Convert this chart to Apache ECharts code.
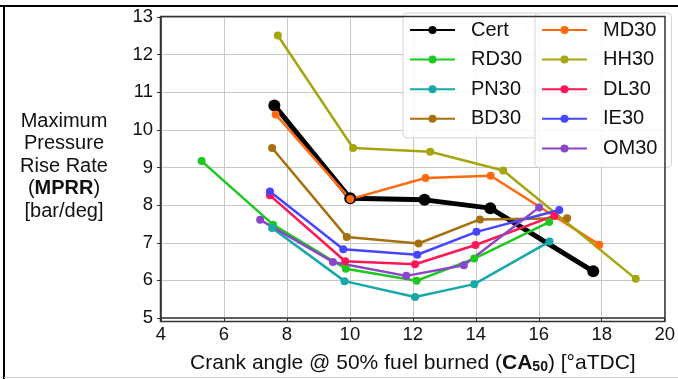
<!DOCTYPE html>
<html>
<head>
<meta charset="utf-8">
<script src="https://cdn.jsdelivr.net/npm/echarts@6/dist/echarts.min.js"></script>
<style>
html,body{margin:0;padding:0;background:#fff;}
#c{width:678px;height:379px;}
</style>
</head>
<body>
<div id="c"></div>
<script>
const xTicks = [4, 6, 8, 10, 12, 14, 16, 18, 20];
const yTicks = [5, 6, 7, 8, 9, 10, 11, 12, 13];

const seriesNames = ['Cert', 'RD30', 'PN30', 'BD30', 'MD30', 'HH30', 'DL30', 'IE30', 'OM30'];

const certX = [7.60, 10.01, 12.37, 14.46, 17.73];
const certY = [10.65, 8.18, 8.14, 7.92, 6.24];
const rdX = [5.29, 7.56, 9.87, 12.12, 13.95, 16.33];
const rdY = [9.17, 7.48, 6.31, 5.99, 6.58, 7.55];
const pnX = [7.53, 9.83, 12.07, 13.95, 16.34];
const pnY = [7.39, 5.98, 5.56, 5.90, 7.03];
const bdX = [7.53, 9.90, 12.18, 14.13, 16.90];
const bdY = [9.52, 7.15, 6.98, 7.62, 7.65];
const mdX = [7.64, 10.01, 12.40, 14.47, 17.92];
const mdY = [10.41, 8.16, 8.72, 8.78, 6.95];
const hhX = [7.71, 10.10, 12.55, 14.87, 19.08];
const hhY = [12.51, 9.52, 9.42, 8.92, 6.04];
const dlX = [7.46, 9.85, 12.07, 13.99, 16.50];
const dlY = [8.26, 6.51, 6.43, 6.94, 7.72];
const ieX = [7.46, 9.79, 12.14, 14.02, 16.65];
const ieY = [8.36, 6.83, 6.68, 7.29, 7.87];
const omX = [7.15, 9.46, 11.79, 13.62, 16.01];
const omY = [7.61, 6.49, 6.12, 6.40, 7.94];

const seriesX = [certX, rdX, pnX, bdX, mdX, hhX, dlX, ieX, omX];
const seriesY = [certY, rdY, pnY, bdY, mdY, hhY, dlY, ieY, omY];
const colors = ['#000000', '#1ec81e', '#17a8a8', '#a6700f', '#ff6a10', '#a5a50f', '#ff1656', '#4646ff', '#8a46c8'];

const FONT = 'Liberation Sans, Arial, sans-serif';

const series = seriesNames.map((name, i) => ({
  name: name,
  type: 'line',
  data: seriesX[i].map((x, j) => [x, seriesY[i][j]]),
  symbol: 'circle',
  symbolSize: i === 0 ? 12 : 8,
  lineStyle: { color: colors[i], width: i === 0 ? 5 : 2.5 },
  itemStyle: { color: colors[i] },
  emphasis: { disabled: true },
  animation: false
}));

const legendBase = {
  orient: 'vertical',
  top: 13,
  itemWidth: 45,
  itemHeight: 10,
  itemGap: 9.6,
  backgroundColor: 'rgba(255,255,255,0.85)',
  borderColor: '#d4d4d4',
  borderWidth: 1,
  borderRadius: 4,
  textStyle: { fontFamily: FONT, fontSize: 20, lineHeight: 20, color: '#111', padding: [0, 0, 0, 11] },
  selectedMode: false
};

const chart = echarts.init(document.getElementById('c'), null, { renderer: 'canvas' });
chart.setOption({
  animation: false,
  backgroundColor: '#fff',
  grid: { left: 161, right: 13, top: 17, bottom: 57, containLabel: false },
  xAxis: {
    type: 'value', min: 4, max: 20, interval: 2,
    axisLine: { show: true, lineStyle: { color: '#333', width: 1.5 } },
    axisTick: { show: true, length: 4, lineStyle: { color: '#333' } },
    axisLabel: { fontFamily: FONT, fontSize: 18.5, color: '#111', margin: 7,
      formatter: v => xTicks.includes(v) ? String(v) : '' },
    splitLine: { show: true, lineStyle: { color: '#c8c8c8', width: 1 } },
    name: 'Crank angle @ 50% fuel burned ({b|CA}{s|50}) [°aTDC]',
    nameLocation: 'middle', nameGap: 34,
    nameTextStyle: { fontFamily: FONT, fontSize: 21, color: '#111',
      rich: {
        b: { fontFamily: FONT, fontSize: 21, fontWeight: 'bold', color: '#111' },
        s: { fontFamily: FONT, fontSize: 14, fontWeight: 'bold', color: '#111', padding: [8, 0, 0, 0] }
      } }
  },
  yAxis: {
    type: 'value', min: 5, max: 13, interval: 1,
    axisLine: { show: true, lineStyle: { color: '#333', width: 1.5 } },
    axisTick: { show: true, length: 4, lineStyle: { color: '#333' } },
    axisLabel: { fontFamily: FONT, fontSize: 18.5, color: '#111', margin: 8,
      formatter: v => yTicks.includes(v) ? String(v) : '' },
    splitLine: { show: true, lineStyle: { color: '#c8c8c8', width: 1 } }
  },
  legend: [
    Object.assign({}, legendBase, { left: 403, padding: [7, 17, 9, 6], data: seriesNames.slice(0, 4) }),
    Object.assign({}, legendBase, { left: 535, padding: [7, 14, 9, 6], data: seriesNames.slice(4) })
  ],
  graphic: [
    { type: 'rect', shape: { x: 160.5, y: 16.5, width: 504.5, height: 305 }, style: { fill: 'none', stroke: '#333', lineWidth: 1.5 }, silent: true, z: 50 },
    { type: 'line', shape: { x1: 0, y1: 6, x2: 678, y2: 6 }, style: { stroke: '#000', lineWidth: 2 }, silent: true },
    { type: 'line', shape: { x1: 4, y1: 6, x2: 4, y2: 379 }, style: { stroke: '#000', lineWidth: 2 }, silent: true },
    { type: 'line', shape: { x1: 4, y1: 377.5, x2: 678, y2: 377.5 }, style: { stroke: '#d0d0d0', lineWidth: 1 }, silent: true },
    { type: 'text', x: 64, y: 166, silent: true,
      style: { text: 'Maximum\nPressure\nRise Rate\n({b|MPRR})\n[bar/deg]',
        fontFamily: FONT, fontSize: 20, fill: '#111', align: 'center', verticalAlign: 'middle', lineHeight: 22.5,
        rich: { b: { fontFamily: FONT, fontSize: 20, fontWeight: 'bold', fill: '#111', lineHeight: 22.5 } } } }
  ],
  series: series
});
</script>
</body>
</html>
